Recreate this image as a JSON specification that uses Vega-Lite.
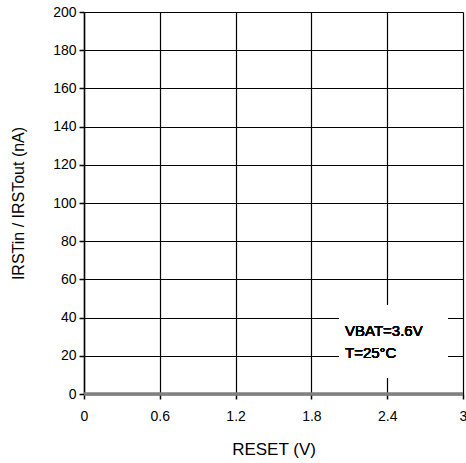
{
  "$schema": "https://vega.github.io/schema/vega-lite/v6.json",
  "autosize": {"type": "none"},
  "padding": {"left": 84, "top": 12, "right": 3, "bottom": 69},
  "width": 379,
  "height": 382,
  "background": "white",
  "config": {
    "view": {"stroke": null},
    "font": "Liberation Sans",
    "axis": {
      "labelFont": "Liberation Sans",
      "titleFont": "Liberation Sans",
      "labelFontSize": 14,
      "titleFontSize": 16,
      "titleFontWeight": "normal",
      "labelColor": "black",
      "titleColor": "black",
      "domainColor": "black",
      "domainWidth": 1.5,
      "tickColor": "black",
      "tickWidth": 1.5,
      "tickSize": 5,
      "gridColor": "black",
      "gridWidth": 1.2,
      "gridOpacity": 1,
      "labelOverlap": false
    }
  },
  "data": {"values": [
    {"reset": 0, "current": 0},
    {"reset": 0.6, "current": 0},
    {"reset": 1.2, "current": 0},
    {"reset": 1.8, "current": 0},
    {"reset": 2.4, "current": 0},
    {"reset": 3, "current": 0}
  ]},
  "layer": [
    {
      "mark": {"type": "line", "stroke": "#808080", "strokeWidth": 3.5},
      "encoding": {
        "x": {"field": "reset", "type": "quantitative",
          "scale": {"domain": [0, 3], "nice": false},
          "axis": {"title": "RESET (V)", "titleFontSize": 17, "values": [0, 0.6, 1.2, 1.8, 2.4, 3], "format": "~g", "labelPadding": 10, "titlePadding": 18, "labelFlush": false}},
        "y": {"field": "current", "type": "quantitative",
          "scale": {"domain": [0, 200], "nice": false},
          "axis": {"title": "IRSTin / IRSTout (nA)", "values": [0,20,40,60,80,100,120,140,160,180,200], "labelPadding": 3, "titlePadding": 26}}
      }
    },
    {
      "mark": {"type": "rect", "fill": "white"},
      "encoding": {
        "x": {"datum": 2.02, "type": "quantitative", "axis": {"title": "RESET (V)", "titleFontSize": 17, "values": [0, 0.6, 1.2, 1.8, 2.4, 3], "format": "~g", "labelPadding": 10, "titlePadding": 18, "labelFlush": false}},
        "x2": {"datum": 2.88},
        "y": {"datum": 46.6, "type": "quantitative", "axis": {"title": "IRSTin / IRSTout (nA)", "values": [0,20,40,60,80,100,120,140,160,180,200], "labelPadding": 3, "titlePadding": 26}},
        "y2": {"datum": 8.4}
      }
    },
    {
      "mark": {"type": "text", "align": "left", "baseline": "middle", "fontSize": 15, "fontWeight": "normal", "font": "Liberation Sans", "lineHeight": 22, "fill": "black"},
      "encoding": {
        "x": {"datum": 2.066, "type": "quantitative", "axis": {"title": "RESET (V)", "titleFontSize": 17, "values": [0, 0.6, 1.2, 1.8, 2.4, 3], "format": "~g", "labelPadding": 10, "titlePadding": 18, "labelFlush": false}},
        "y": {"datum": 33, "type": "quantitative", "axis": {"title": "IRSTin / IRSTout (nA)", "values": [0,20,40,60,80,100,120,140,160,180,200], "labelPadding": 3, "titlePadding": 26}},
        "text": {"value": ["VBAT=3.6V", "T=25°C"]}
      }
    }
  ]
}
